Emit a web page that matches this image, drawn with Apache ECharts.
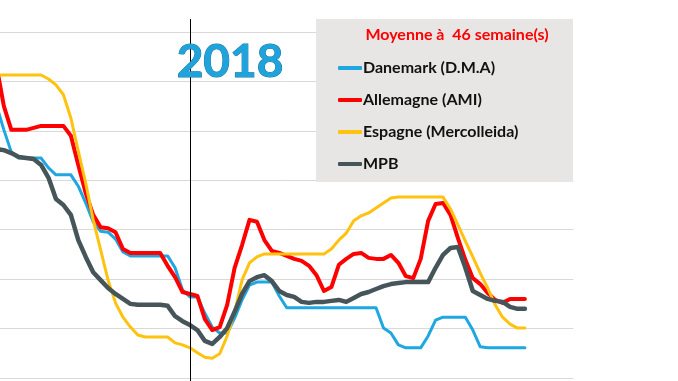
<!DOCTYPE html>
<html>
<head>
<meta charset="utf-8">
<script src="https://cdn.jsdelivr.net/npm/echarts@6/dist/echarts.min.js"></script>
<style>html,body{margin:0;padding:0;background:#fff}#c{width:678px;height:381px}</style>
</head>
<body>
<div id="c"></div>
<script>
const weeks = [
 '2017-S27','2017-S28','2017-S29','2017-S30','2017-S31','2017-S32','2017-S33','2017-S34','2017-S35','2017-S36',
 '2017-S37','2017-S38','2017-S39','2017-S40','2017-S41','2017-S42','2017-S43','2017-S44','2017-S45','2017-S46',
 '2017-S47','2017-S48','2017-S49','2017-S50','2017-S51','2017-S52',
 '2018-S01','2018-S02','2018-S03','2018-S04','2018-S05','2018-S06','2018-S07','2018-S08','2018-S09','2018-S10',
 '2018-S11','2018-S12','2018-S13','2018-S14','2018-S15','2018-S16','2018-S17','2018-S18','2018-S19','2018-S20',
 '2018-S21','2018-S22','2018-S23','2018-S24','2018-S25','2018-S26','2018-S27','2018-S28','2018-S29','2018-S30',
 '2018-S31','2018-S32','2018-S33','2018-S34','2018-S35','2018-S36','2018-S37','2018-S38','2018-S39','2018-S40',
 '2018-S41','2018-S42','2018-S43','2018-S44','2018-S45','2018-S46','2018-S47','2018-S48','2018-S49','2018-S50',
 '2018-S51','2018-S52'
];
const yearMarker = '2018-S01';

const danemark = [
 1.552,1.502,1.457,1.445,1.445,1.445,1.445,1.425,1.411,1.411,
 1.411,1.388,1.354,1.316,1.297,1.295,1.281,1.255,1.247,1.247,
 1.247,1.247,1.247,1.247,1.223,1.178,1.164,1.164,1.131,1.103,
 1.091,1.091,1.121,1.158,1.188,1.194,1.194,1.194,1.166,1.142,
 1.142,1.142,1.142,1.142,1.142,1.142,1.142,1.142,1.142,1.142,
 1.142,1.142,1.101,1.091,1.067,1.061,1.061,1.061,1.085,1.117,
 1.123,1.123,1.123,1.123,1.097,1.063,1.061,1.061,1.061,1.061,
 1.061,1.061
];
const allemagne = [
 1.633,1.550,1.502,1.502,1.502,1.506,1.510,1.510,1.510,1.510,
 1.490,1.431,1.374,1.330,1.305,1.303,1.295,1.261,1.253,1.253,
 1.253,1.253,1.253,1.227,1.204,1.174,1.170,1.166,1.119,1.097,
 1.103,1.148,1.223,1.269,1.320,1.316,1.279,1.257,1.253,1.247,
 1.241,1.237,1.227,1.208,1.176,1.184,1.229,1.241,1.251,1.253,
 1.243,1.241,1.241,1.249,1.233,1.206,1.202,1.241,1.318,1.352,
 1.354,1.330,1.283,1.239,1.202,1.190,1.172,1.158,1.152,1.160,
 1.160,1.160
];
const espagne = [
 1.613,1.613,1.613,1.613,1.613,1.613,1.613,1.605,1.593,1.573,
 1.526,1.459,1.394,1.320,1.259,1.198,1.152,1.123,1.103,1.087,
 1.083,1.083,1.083,1.083,1.071,1.067,1.061,1.051,1.042,1.040,
 1.049,1.085,1.134,1.198,1.233,1.245,1.251,1.251,1.251,1.251,
 1.251,1.251,1.251,1.251,1.251,1.261,1.279,1.293,1.318,1.328,
 1.334,1.344,1.354,1.364,1.366,1.366,1.366,1.366,1.366,1.366,
 1.366,1.342,1.310,1.277,1.245,1.212,1.182,1.148,1.123,1.109,
 1.101,1.101
];
const mpb = [
 1.463,1.461,1.455,1.447,1.445,1.443,1.431,1.405,1.362,1.350,
 1.330,1.279,1.245,1.214,1.198,1.182,1.170,1.160,1.150,1.148,
 1.148,1.148,1.148,1.146,1.125,1.115,1.107,1.097,1.075,1.069,
 1.083,1.101,1.134,1.170,1.196,1.204,1.208,1.196,1.176,1.168,
 1.164,1.154,1.152,1.154,1.154,1.156,1.158,1.154,1.162,1.170,
 1.174,1.180,1.186,1.190,1.192,1.194,1.194,1.194,1.194,1.223,
 1.249,1.263,1.265,1.223,1.176,1.168,1.160,1.156,1.154,1.144,
 1.140,1.140
];
const seriesNames = ['Danemark (D.M.A)','Allemagne (AMI)','Espagne (Mercolleida)','MPB'];
const seriesColors = ['#1ea7e0','#ff0000','#ffc20e','#45555a'];
const seriesWidths = [3, 4, 3, 4.5];
const yMin = 1.0, yMax = 1.7, yStep = 0.1;
const boxTitle = 'Moyenne à  46 semaine(s)';
const yearLabel = '2018';

const chart = echarts.init(document.getElementById('c'), null, {renderer: 'canvas'});
const allData = [danemark, allemagne, espagne, mpb];
const font = 'Lato, "Open Sans", sans-serif';

const option = {
  animation: false,
  backgroundColor: '#ffffff',
  grid: [
    {left: -7.3, top: 32, width: 580.6, height: 346, outerBoundsMode: 'none', containLabel: false},
    {left: -7.3, top: 19, width: 580.6, height: 362, outerBoundsMode: 'none', containLabel: false}
  ],
  xAxis: [
    {type: 'category', gridIndex: 0, data: weeks, boundaryGap: true,
     axisLine: {show: false}, axisTick: {show: false}, axisLabel: {show: false}, splitLine: {show: false}},
    {type: 'category', gridIndex: 1, data: weeks, boundaryGap: true, show: false}
  ],
  yAxis: [
    {type: 'value', gridIndex: 0, min: yMin, max: yMax, interval: yStep,
     axisLine: {show: false}, axisTick: {show: false}, axisLabel: {show: false},
     splitLine: {show: true, lineStyle: {color: '#d9d9d9', width: 1}}},
    {type: 'value', gridIndex: 1, min: 0, max: 1, show: false}
  ],
  legend: {
    data: seriesNames,
    orient: 'vertical',
    left: 333, top: 53,
    itemGap: 12,
    itemWidth: 24, itemHeight: 4,
    icon: 'roundRect',
    z: 5,
    textStyle: {fontFamily: font, fontSize: 16, fontWeight: 'bold', color: '#111', lineHeight: 20, padding: [0,0,0,-4]}
  },
  graphic: [
    {type: 'rect', z: 3, shape: {x: 316, y: 19, width: 257, height: 163}, style: {fill: '#e8e6e4'}},
    {type: 'text', z: 6, x: 457, y: 35, style: {text: boxTitle, fill: '#ff0000', font: 'bold 16px ' + font, textAlign: 'center', textVerticalAlign: 'middle'}},
    {type: 'text', z: 6, x: 230, y: 62, style: {text: yearLabel, fill: '#1fa3dc', font: 'bold 46px ' + font, textAlign: 'center', textVerticalAlign: 'middle',
      stroke: '#17759f', lineWidth: 1,
      shadowColor: 'rgba(8,50,75,0.8)', shadowOffsetX: 2, shadowOffsetY: 2, shadowBlur: 2}}
  ],
  series: allData.map((d, i) => ({
    name: seriesNames[i], type: 'line', data: d, xAxisIndex: 0, yAxisIndex: 0,
    symbol: 'none', smooth: false, z: 2 + i * 0.01,
    lineStyle: {color: seriesColors[i], width: seriesWidths[i], cap: 'round', join: 'round'},
    itemStyle: {color: seriesColors[i]}
  })).concat([{
    type: 'line', xAxisIndex: 1, yAxisIndex: 1, data: [], symbol: 'none', silent: true,
    markLine: {symbol: 'none', silent: true, animation: false, label: {show: false},
      lineStyle: {color: '#000', width: 1, type: 'solid'},
      data: [{xAxis: yearMarker}]}
  }])
};
chart.setOption(option);
</script>
</body>
</html>
